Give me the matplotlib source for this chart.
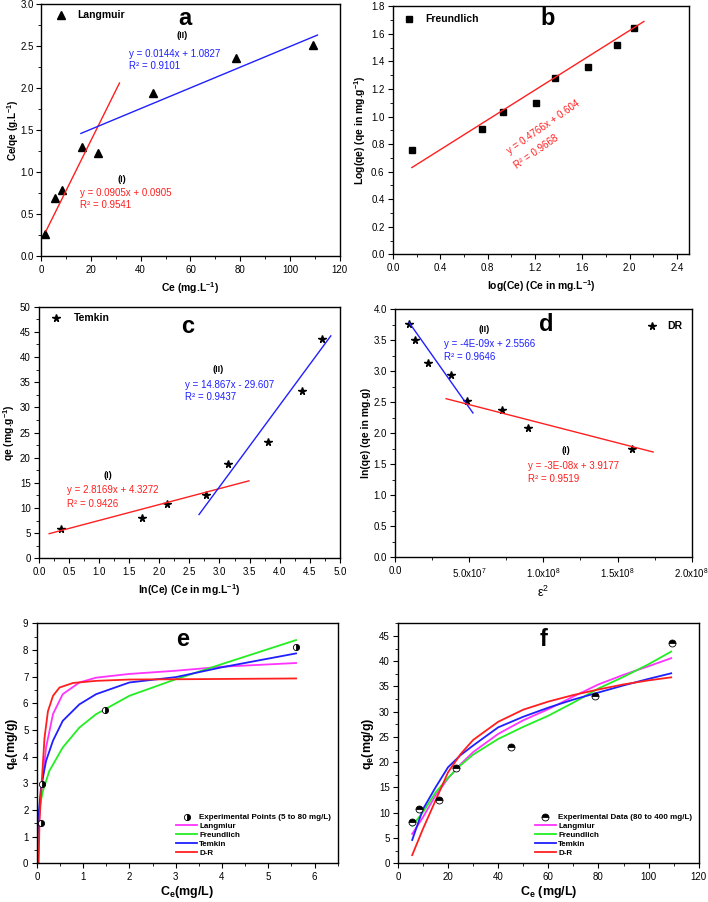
import matplotlib
matplotlib.use("Agg")
import matplotlib.pyplot as plt
from matplotlib.ticker import MultipleLocator, FixedLocator, FixedFormatter, FormatStrFormatter

plt.rcParams['font.family'] = ['Liberation Sans', 'DejaVu Sans']
plt.rcParams['mathtext.fontset'] = 'custom'
plt.rcParams['mathtext.rm'] = 'Liberation Sans'
plt.rcParams['mathtext.bf'] = 'Liberation Sans:bold'
plt.rcParams['mathtext.it'] = 'Liberation Sans:italic'

# ---- Panel a: Langmuir linear plot ----
lang_ce = [1.5, 5.5, 8.3, 16.3, 23.0, 45.0, 78.3, 109.3]
lang_ceqe = [0.26, 0.69, 0.79, 1.30, 1.23, 1.94, 2.36, 2.51]
lang_fit1_x = [2.0, 31.5]
lang_fit1_y = [0.30, 2.06]
lang_fit2_x = [16.0, 111.0]
lang_fit2_y = [1.46, 2.63]

# ---- Panel b: Freundlich ----
freu_logce = [0.16, 0.75, 0.93, 1.21, 1.37, 1.65, 1.89, 2.04]
freu_logqe = [0.76, 0.91, 1.03, 1.10, 1.28, 1.36, 1.52, 1.64]
freu_fit_x = [0.16, 2.12]
freu_fit_y = [0.63, 1.69]

# ---- Panel c: Temkin ----
tem_lnce = [0.365, 1.72, 2.13, 2.78, 3.14, 3.80, 4.37, 4.70]
tem_qe = [5.8, 8.1, 10.7, 12.5, 18.8, 23.1, 33.3, 43.6]
tem_fit1_x = [0.17, 3.49]
tem_fit1_y = [4.9, 15.4]
tem_fit2_x = [2.66, 4.85]
tem_fit2_y = [8.7, 44.2]

# ---- Panel d: D-R ----
dr_eps2 = [0.94e7, 1.32e7, 2.25e7, 3.79e7, 4.84e7, 7.19e7, 8.93e7, 16.0e7]
dr_lnqe = [3.77, 3.50, 3.14, 2.94, 2.53, 2.37, 2.09, 1.75]
dr_fit2_x = [0.94e7, 5.25e7]
dr_fit2_y = [3.79, 2.33]
dr_fit1_x = [3.44e7, 17.4e7]
dr_fit1_y = [2.56, 1.70]
dr_xticks = [0, 5e7, 1e8, 1.5e8, 2e8]
dr_xticklabels = ['0.0', '5.0x10$^{7}$', '1.0x10$^{8}$', '1.5x10$^{8}$', '2.0x10$^{8}$']

# ---- Panel e: non-linear fits (5 to 80 mg/L) ----
e_exp_ce = [0.08, 0.11, 1.47, 5.6]
e_exp_qe = [1.49, 2.96, 5.75, 8.1]
e_lang_x = [0.05, 0.09, 0.13, 0.2, 0.35, 0.56, 0.92, 1.28, 2.0, 3.0, 4.0, 5.6]
e_lang_y = [1.6, 2.6, 3.2, 4.34, 5.6, 6.34, 6.78, 6.96, 7.1, 7.22, 7.37, 7.51]
e_freu_x = [0.02, 0.06, 0.13, 0.27, 0.56, 0.92, 1.28, 2.0, 3.0, 4.0, 5.6]
e_freu_y = [1.5, 2.1, 2.7, 3.46, 4.34, 5.09, 5.59, 6.28, 6.9, 7.47, 8.37]
e_temk_x = [0.005, 0.04, 0.09, 0.2, 0.35, 0.56, 0.92, 1.28, 2.0, 3.0, 4.0, 5.6]
e_temk_y = [0.46, 1.84, 2.84, 3.84, 4.6, 5.34, 5.96, 6.34, 6.78, 6.98, 7.35, 7.87]
e_dr_x = [0.04, 0.058, 0.108, 0.166, 0.24, 0.35, 0.49, 0.78, 1.28, 2.0, 3.0, 5.6]
e_dr_y = [0.0, 1.59, 3.09, 4.7, 5.7, 6.28, 6.59, 6.76, 6.84, 6.89, 6.9, 6.93]

# ---- Panel f: non-linear fits (80 to 400 mg/L) ----
f_exp_ce = [5.5, 8.5, 16.3, 23.2, 45.0, 78.5, 109.2]
f_exp_qe = [8.1, 10.7, 12.5, 18.9, 23.1, 33.2, 43.6]
f_x = [5.7, 10, 15, 20, 25, 30, 40, 50, 60, 70, 80, 90, 100, 109]
f_lang_y = [5.8, 9.1, 13.4, 16.8, 19.6, 22.0, 25.6, 28.3, 30.5, 33.0, 35.4, 37.3, 39.0, 40.6]
f_freu_y = [7.4, 10.1, 14.0, 16.9, 19.4, 21.5, 24.6, 27.0, 29.2, 31.8, 34.6, 36.9, 39.4, 41.9]
f_temk_y = [4.6, 10.7, 15.0, 19.0, 21.4, 23.3, 26.9, 29.0, 30.8, 32.4, 33.8, 35.2, 36.5, 37.6]
f_dr_y = [1.6, 6.8, 12.4, 18.0, 21.6, 24.4, 28.0, 30.4, 32.0, 33.3, 34.4, 35.4, 36.2, 36.8]

BLUE = '#1f1fff'
RED = '#ff1f1f'
MAG = '#ff33ff'
GRN = '#22ee22'
TFS = 7
LFS = 7.5

fig = plt.figure(figsize=(7.08, 9.02), dpi=100)


def style(ax, xmaj, xmin, ymaj, ymin):
    ax.xaxis.set_major_locator(MultipleLocator(xmaj))
    ax.xaxis.set_minor_locator(MultipleLocator(xmin))
    ax.yaxis.set_major_locator(MultipleLocator(ymaj))
    ax.yaxis.set_minor_locator(MultipleLocator(ymin))
    ax.tick_params(which='both', direction='out', top=False, right=False, labelsize=TFS)
    ax.tick_params(which='major', length=3.5, width=0.8, pad=2.5)
    ax.tick_params(which='minor', length=2, width=0.6)
    for s in ax.spines.values():
        s.set_linewidth(1.0)


# a
axa = fig.add_axes([0.058, 0.716, 0.422, 0.2796])
axa.plot(lang_ce, lang_ceqe, '^', color='black', ms=5.5)
axa.plot(lang_fit1_x, lang_fit1_y, color=RED, lw=1)
axa.plot(lang_fit2_x, lang_fit2_y, color=BLUE, lw=1)
axa.set_xlim(0, 120); axa.set_ylim(0, 3.0)
style(axa, 20, 10, 0.5, 0.25)
axa.tick_params(axis='y', which='major', pad=1.5)
axa.yaxis.set_major_formatter(FormatStrFormatter('%.1f'))
axa.set_xlabel('Ce (mg.L$^{\\mathbf{-1}}$)', fontsize=LFS, fontweight='bold', labelpad=4)
axa.set_ylabel('Ce/qe (g.L$^{\\mathbf{-1}}$)', fontsize=7.2, fontweight='bold')
axa.yaxis.set_label_coords(-0.068, 0.5)
axa.text(57.6, 2.83, 'a', fontsize=17, fontweight='bold', ha='center', va='center')
axa.plot([7.9], [2.87], '^', color='black', ms=5.5)
axa.text(14.7, 2.87, 'Langmuir', fontsize=7.5, fontweight='bold', va='center')
axa.text(56.6, 2.62, '(II)', fontsize=6.5, fontweight='bold', ha='center', va='center')
axa.text(35.3, 2.41, 'y = 0.0144x + 1.0827', fontsize=7, color=BLUE, va='center')
axa.text(35.3, 2.26, 'R² = 0.9101', fontsize=7, color=BLUE, va='center')
axa.text(32.5, 0.91, '(I)', fontsize=6.5, fontweight='bold', ha='center', va='center')
axa.text(15.8, 0.75, 'y = 0.0905x + 0.0905', fontsize=7, color=RED, va='center')
axa.text(15.8, 0.61, 'R² = 0.9541', fontsize=7, color=RED, va='center')

# b
axb = fig.add_axes([0.555, 0.718, 0.418, 0.275])
axb.plot(freu_logce, freu_logqe, 's', color='black', ms=4.5)
axb.plot(freu_fit_x, freu_fit_y, color=RED, lw=1)
axb.set_xlim(0, 2.5); axb.set_ylim(0, 1.8)
style(axb, 0.4, 0.2, 0.2, 0.1)
axb.xaxis.set_major_formatter(FormatStrFormatter('%.1f'))
axb.yaxis.set_major_formatter(FormatStrFormatter('%.1f'))
axb.set_xlabel('log(Ce) (Ce in mg.L$^{\\mathbf{-1}}$)', fontsize=LFS, fontweight='bold', labelpad=4)
axb.set_ylabel('Log(qe) (qe in mg.g$^{\\mathbf{-1}}$)', fontsize=LFS, fontweight='bold', labelpad=2)
axb.text(1.31, 1.71, 'b', fontsize=17, fontweight='bold', ha='center', va='center')
axb.plot([0.135], [1.71], 's', color='black', ms=4.5)
axb.text(0.276, 1.71, 'Freundlich', fontsize=7.5, fontweight='bold', va='center')
axb.text(1.27, 0.925, 'y = 0.4766x + 0.604', fontsize=7, color=RED, rotation=35,
         ha='center', va='center', rotation_mode='anchor')
axb.text(1.21, 0.745, 'R² = 0.9668', fontsize=7, color=RED, rotation=35,
         ha='center', va='center', rotation_mode='anchor')

# c
axc = fig.add_axes([0.055, 0.381, 0.425, 0.279])
axc.plot(tem_lnce, tem_qe, '*', color='black', ms=5.5)
axc.plot(tem_fit1_x, tem_fit1_y, color=RED, lw=1)
axc.plot(tem_fit2_x, tem_fit2_y, color=BLUE, lw=1)
axc.set_xlim(0, 5); axc.set_ylim(0, 50)
style(axc, 0.5, 0.25, 5, 2.5)
axc.xaxis.set_major_formatter(FormatStrFormatter('%.1f'))
axc.set_xlabel('ln(Ce) (Ce in mg.L$^{\\mathbf{-1}}$)', fontsize=LFS, fontweight='bold', labelpad=4)
axc.set_ylabel('qe (mg.g$^{\\mathbf{-1}}$)', fontsize=LFS, fontweight='bold', labelpad=2)
axc.text(2.48, 46.0, 'c', fontsize=17, fontweight='bold', ha='center', va='center')
axc.plot([0.29], [47.7], '*', color='black', ms=5.5)
axc.text(0.58, 47.7, 'Temkin', fontsize=7.5, fontweight='bold', va='center')
axc.text(2.98, 37.6, '(II)', fontsize=6.5, fontweight='bold', ha='center', va='center')
axc.text(2.43, 34.5, 'y = 14.867x - 29.607', fontsize=7, color=BLUE, va='center')
axc.text(2.43, 32.0, 'R² = 0.9437', fontsize=7, color=BLUE, va='center')
axc.text(1.14, 16.5, '(I)', fontsize=6.5, fontweight='bold', ha='center', va='center')
axc.text(0.46, 13.5, 'y = 2.8169x + 4.3272', fontsize=7, color=RED, va='center')
axc.text(0.46, 10.7, 'R² = 0.9426', fontsize=7, color=RED, va='center')

# d
axd = fig.add_axes([0.558, 0.382, 0.419, 0.275])
axd.plot(dr_eps2, dr_lnqe, '*', color='black', ms=5.5)
axd.plot(dr_fit2_x, dr_fit2_y, color=BLUE, lw=1)
axd.plot(dr_fit1_x, dr_fit1_y, color=RED, lw=1)
axd.set_xlim(0, 2e8); axd.set_ylim(0, 4.0)
style(axd, 5e7, 2.5e7, 0.5, 0.25)
axd.xaxis.set_major_locator(FixedLocator(dr_xticks))
axd.xaxis.set_major_formatter(FixedFormatter(dr_xticklabels))
axd.yaxis.set_major_formatter(FormatStrFormatter('%.1f'))
axd.set_xlabel('ε$^{2}$', fontsize=9, labelpad=4)
axd.set_ylabel('ln(qe) (qe in mg.g)', fontsize=LFS, fontweight='bold', labelpad=2)
axd.text(10.2e7, 3.75, 'd', fontsize=17, fontweight='bold', ha='center', va='center')
axd.plot([17.3e7], [3.73], '*', color='black', ms=5.5)
axd.text(18.35e7, 3.73, 'DR', fontsize=7.5, fontweight='bold', va='center')
axd.text(6.0e7, 3.68, '(II)', fontsize=6.5, fontweight='bold', ha='center', va='center')
axd.text(3.33e7, 3.44, 'y = -4E-09x + 2.5566', fontsize=7, color=BLUE, va='center')
axd.text(3.33e7, 3.23, 'R² = 0.9646', fontsize=7, color=BLUE, va='center')
axd.text(11.5e7, 1.73, '(I)', fontsize=6.5, fontweight='bold', ha='center', va='center')
axd.text(8.97e7, 1.47, 'y = -3E-08x + 3.9177', fontsize=7, color=RED, va='center')
axd.text(8.97e7, 1.26, 'R² = 0.9519', fontsize=7, color=RED, va='center')

# e
axe = fig.add_axes([0.052, 0.043, 0.425, 0.266])
axe.plot(e_lang_x, e_lang_y, color=MAG, lw=1.3, label='Langmiur')
axe.plot(e_freu_x, e_freu_y, color=GRN, lw=1.3, label='Freundlich')
axe.plot(e_temk_x, e_temk_y, color=BLUE, lw=1.3, label='Temkin')
axe.plot(e_dr_x, e_dr_y, color=RED, lw=1.3, label='D-R')
axe.plot(e_exp_ce, e_exp_qe, 'o', ms=4.5, fillstyle='right', markerfacecolor='black',
         markerfacecoloralt='white', markeredgecolor='black', markeredgewidth=0.6, lw=0,
         label='Experimental Points (5 to 80 mg/L)')
axe.set_xlim(0, 6.5); axe.set_ylim(0, 9)
style(axe, 1, 0.5, 1, 0.5)
axe.set_xlabel('C$_{\\mathbf{e}}$(mg/L)', fontsize=9, fontweight='bold', labelpad=2)
axe.set_ylabel('q$_{\\mathbf{e}}$(mg/g)', fontsize=9, fontweight='bold', labelpad=2)
axe.text(3.15, 8.41, 'e', fontsize=17, fontweight='bold', ha='center', va='center')
h, l = axe.get_legend_handles_labels()
order = [4, 0, 1, 2, 3]
axe.legend([h[i] for i in order], [l[i] for i in order], loc='lower right',
           bbox_to_anchor=(1.0, 0.0), frameon=False, prop={'weight': 'bold', 'size': 5.8},
           handlelength=2.6, handletextpad=0.3, labelspacing=0.15, borderaxespad=0.4)

# f
axf = fig.add_axes([0.562, 0.043, 0.425, 0.266])
axf.plot(f_x, f_lang_y, color=MAG, lw=1.3, label='Langmiur')
axf.plot(f_x, f_freu_y, color=GRN, lw=1.3, label='Freundlich')
axf.plot(f_x, f_temk_y, color=BLUE, lw=1.3, label='Temkin')
axf.plot(f_x, f_dr_y, color=RED, lw=1.3, label='D-R')
axf.plot(f_exp_ce, f_exp_qe, 'o', ms=5, fillstyle='top', markerfacecolor='black',
         markerfacecoloralt='white', markeredgecolor='black', markeredgewidth=0.6, lw=0,
         label='Experimental Data (80 to 400 mg/L)')
axf.set_xlim(0, 120); axf.set_ylim(0, 47.5)
style(axf, 20, 10, 5, 2.5)
axf.set_xlabel('C$_{\\mathbf{e}}$ (mg/L)', fontsize=9, fontweight='bold', labelpad=2)
axf.set_ylabel('q$_{\\mathbf{e}}$(mg/g)', fontsize=9, fontweight='bold', labelpad=2)
axf.text(58.1, 44.3, 'f', fontsize=17, fontweight='bold', ha='center', va='center')
h, l = axf.get_legend_handles_labels()
axf.legend([h[i] for i in order], [l[i] for i in order], loc='lower right',
           bbox_to_anchor=(1.0, 0.0), frameon=False, prop={'weight': 'bold', 'size': 5.8},
           handlelength=2.6, handletextpad=0.3, labelspacing=0.15, borderaxespad=0.4)

fig.savefig('out.png', dpi=100)
